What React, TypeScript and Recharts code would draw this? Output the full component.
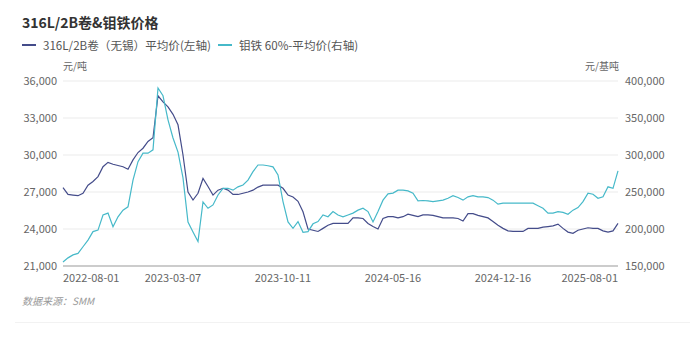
import React from "react";
import { LineChart, Line, XAxis, YAxis, CartesianGrid } from "recharts";

// 316L/2B coil (Wuxi) average price, yuan/t, left axis
const steelPrice = [
  27350, 26800, 26750, 26700, 26900, 27550, 27850, 28250, 29050, 29400,
  29250, 29150, 29050, 28850, 29600, 30200, 30550, 31100, 31400, 34800,
  34300, 33900, 33300, 32450, 30000, 27000, 26350, 26900, 28100, 27450,
  26750, 27150, 27300, 27150, 26800, 26800, 26900, 27000, 27150, 27400,
  27550, 27550, 27550, 27550, 27300, 26750, 26600, 26250, 25400, 24000,
  23900, 23800, 24050, 24300, 24450, 24450, 24450, 24450, 24900, 24900,
  24850, 24450, 24200, 24000, 24850, 25000, 25000, 24900, 25000, 25200,
  25100, 25000, 25150, 25150, 25100, 25000, 24900, 24900, 24900, 24850,
  24650, 25250, 25250, 25100, 25000, 24900, 24600, 24300, 24050, 23850,
  23800, 23800, 23800, 24050, 24050, 24050, 24150, 24200, 24250, 24400,
  24050, 23750, 23650, 23900, 24000, 24100, 24050, 24050, 23850, 23750,
  23850, 24450,
];

// ferromolybdenum 60% average price, yuan/mt-degree, right axis
const molyPrice = [
  155500, 161000, 165000, 167000, 176000, 185000, 196500, 198500, 219000, 221500,
  203000, 216500, 225500, 230000, 266000, 291000, 302500, 302500, 307000, 390500,
  380000, 347500, 323000, 304000, 269000, 209500, 196000, 183000, 236500, 228000,
  232500, 246000, 255000, 255000, 252500, 257000, 259500, 266000, 277500, 286500,
  286500, 285500, 284000, 273000, 237000, 209500, 201000, 210000, 195500, 196500,
  207000, 210000, 219000, 216500, 223500, 219000, 216500, 219000, 221500, 225500,
  228000, 223500, 209500, 223500, 239000, 247500, 248500, 252500, 252500, 251500,
  248500, 238000, 238500, 238000, 237000, 238000, 239000, 241500, 245000, 242500,
  239000, 243500, 245000, 243500, 243500, 242500, 239000, 233500, 235000, 235000,
  235000, 235000, 235000, 235000, 235000, 231500, 228000, 221500, 221500, 223500,
  222500, 220000, 225500, 229000, 237000, 248500, 247000, 241500, 243500, 257000,
  255000, 278500,
];

const xTickLabels = ["2022-08-01", "2023-03-07", "2023-10-11", "2024-05-16", "2024-12-16", "2025-08-01"];
const xTickIndex = [0, 22, 44, 66, 88, 111];
const leftTicks = [21000, 24000, 27000, 30000, 33000, 36000];
const rightTicks = [150000, 200000, 250000, 300000, 350000, 400000];

const data = steelPrice.map((v, i) => ({ i, steel: v, moly: molyPrice[i] }));

const FONT = "'Noto Sans CJK SC', 'Noto Sans', sans-serif";
const fmt = (v: number) => v.toLocaleString("en-US");

function XTick(props: any) {
  const { x, y, payload, index } = props;
  const k = xTickIndex.indexOf(payload.value);
  const anchor = index === 0 ? "start" : k === xTickIndex.length - 1 ? "end" : "middle";
  return (
    <text x={x} y={y} dy="0.71em" textAnchor={anchor} fill="#666" fontSize={11} fontFamily={FONT}>
      {xTickLabels[k]}
    </text>
  );
}

export default function App() {
  return (
    <div style={{ position: "absolute", left: 0, top: 0, width: 697, height: 337, background: "#fff", fontFamily: FONT }}>
      <div style={{ position: "absolute", left: 22, top: 12, fontSize: 14, fontWeight: 700, color: "#333" }}>
        316L/2B卷&amp;钼铁价格
      </div>
      <div style={{ position: "absolute", left: 22, top: 37, fontSize: 11.6, color: "#555", display: "flex", alignItems: "center", whiteSpace: "nowrap" }}>
        <span style={{ width: 14, height: 2, background: "#444c8a", marginRight: 7 }} />
        <span>316L/2B卷（无锡）平均价(左轴)</span>
        <span style={{ width: 14, height: 2, background: "#46b9c9", marginLeft: 7, marginRight: 7 }} />
        <span>钼铁 60%-平均价(右轴)</span>
      </div>
      <div style={{ position: "absolute", left: 63, top: 58, fontSize: 10, color: "#666" }}>元/吨</div>
      <div style={{ position: "absolute", right: 697 - 619, top: 58, fontSize: 10, color: "#666" }}>元/基吨</div>

      <div style={{ position: "absolute", left: 0, top: 0 }}>
        <LineChart width={697} height={337} data={data} margin={{ top: 81, right: 0, bottom: 41, left: 0 }}>
          <CartesianGrid yAxisId="left" vertical={false} stroke="#ebebeb" />
          <XAxis
            dataKey="i"
            type="number"
            domain={[0, steelPrice.length - 1]}
            ticks={xTickIndex}
            interval={0}
            height={30}
            tickLine={false}
            axisLine={{ stroke: "#cccccc", strokeWidth: 2 }}
            tick={<XTick />}
          />
          <YAxis
            yAxisId="left"
            width={63}
            domain={[21000, 36000]}
            ticks={leftTicks}
            tickFormatter={fmt}
            axisLine={false}
            tickLine={false}
            tickMargin={0}
            tick={{ fill: "#666", fontSize: 11, fontFamily: FONT }}
          />
          <YAxis
            yAxisId="right"
            orientation="right"
            width={79}
            domain={[150000, 400000]}
            ticks={rightTicks}
            tickFormatter={fmt}
            axisLine={false}
            tickLine={false}
            tickMargin={1}
            tick={{ fill: "#666", fontSize: 11, fontFamily: FONT }}
          />
          <Line yAxisId="left" type="linear" dataKey="steel" stroke="#444c8a" strokeWidth={1.2} dot={false} isAnimationActive={false} />
          <Line yAxisId="right" type="linear" dataKey="moly" stroke="#46b9c9" strokeWidth={1.2} dot={false} isAnimationActive={false} />
        </LineChart>
      </div>

      <div style={{ position: "absolute", left: 22, top: 293, fontSize: 10, color: "#999", fontStyle: "italic" }}>
        数据来源：SMM
      </div>
      <div style={{ position: "absolute", left: 15, top: 322, width: 675, height: 1, background: "#f2f2f2" }} />
    </div>
  );
}
